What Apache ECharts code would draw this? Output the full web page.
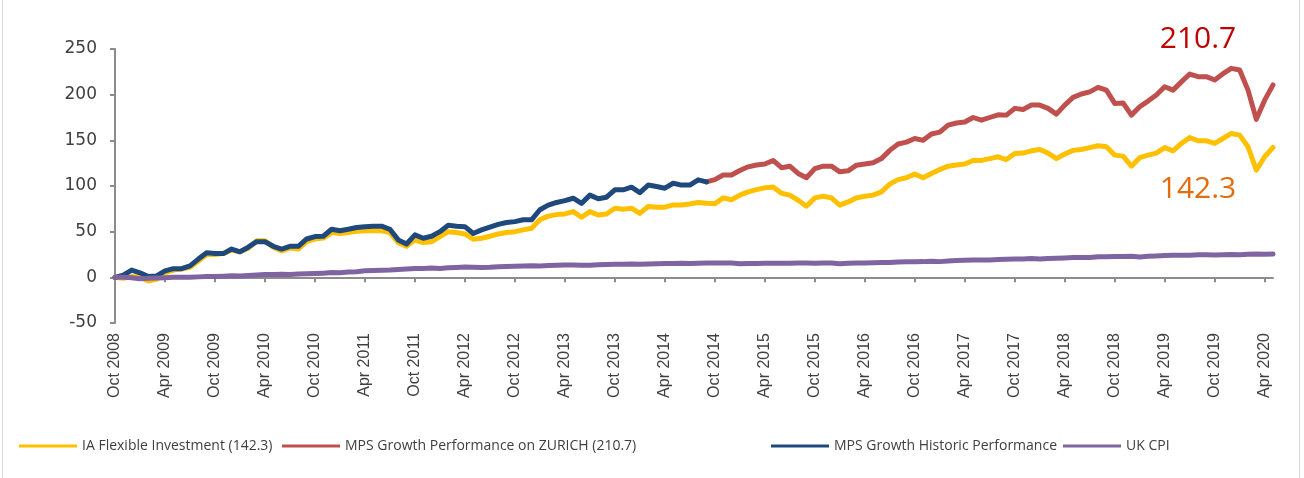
<!DOCTYPE html>
<html>
<head>
<meta charset="utf-8">
<script src="https://cdn.jsdelivr.net/npm/echarts@6/dist/echarts.min.js"></script>
<style>
html,body{margin:0;padding:0;background:#fff;}
#chart{width:1304px;height:478px;}
</style>
</head>
<body>
<div id="chart"></div>
<script>
// ---- Data (monthly, Oct 2008 .. May 2020) ----
var monthNames = ['Jan','Feb','Mar','Apr','May','Jun','Jul','Aug','Sep','Oct','Nov','Dec'];
var startYear = 2008, startMonth = 9, monthCount = 140;
var categories = [];
for (var k = 0; k < monthCount; k++) {
  var m = (startMonth + k) % 12, y = startYear + Math.floor((startMonth + k) / 12);
  categories.push(monthNames[m] + ' ' + y);
}

var iaFlexible = [
  0, -1, 1, 0, -4, -2, 5, 8, 9, 11, 18, 25, 25, 26, 30, 28, 32, 40, 40, 33, 29, 32, 31, 39, 42, 43, 49, 48, 49, 50.5, 51, 51, 51, 49, 38, 34,
  41, 38, 39, 44.6, 50, 49, 47.5, 41.7, 42.8, 45, 47.5, 49, 50, 52, 53.7, 63, 67, 68.7, 69.4, 72, 65.8, 72, 68.3, 69.4, 75.7, 74.6, 75.7, 70, 77.5, 76.8, 76.8, 79.3, 79.3, 80.4, 82, 81,
  80.5, 87, 85, 90, 93.6, 96, 98, 99, 92, 90, 84.4, 77.9, 87, 88.8, 87, 79, 82.6, 87, 88.8, 90, 93.6, 102, 107, 109, 113, 109, 113.7, 118, 121.7, 123, 124, 128, 128, 130, 132,
  129, 135.6, 136, 138.5, 140, 136, 130, 135, 139, 140, 142, 144, 143, 133.8, 132.7, 121.7, 131, 133.8, 136, 142, 138.5, 146.6, 153, 149.5, 149.5, 146.6, 152, 157.5, 155.7, 143, 117.3, 132, 142.3
];

// MPS Growth Performance on ZURICH: starts at index 71 (Sep 2014)
var zurichStartIndex = 71;
var zurichValues = [
  104.5, 107, 112, 112, 117, 121, 123, 124, 128, 120, 121.7, 113.7, 109, 119, 121.7, 121.7, 115.5, 116.6, 122.8, 124, 125.4, 130, 139, 146, 148, 152, 150, 157, 159, 166.7, 169, 170, 175, 172, 175, 178,
  177.6, 185, 183.8, 188.6, 188.6, 185, 178.7, 188.6, 197, 200.7, 203, 208, 205, 190.4, 191, 177.6, 186.8, 193, 199.6, 208.7, 205, 214, 222.6, 219.7, 219.7, 216, 223, 228.8, 227, 205, 173, 194, 210.7
];

// MPS Growth Historic Performance: Oct 2008 .. Sep 2014
var historicValues = [
  0, 2.5, 8, 5, 1, 1.5, 7, 9.5, 9.5, 12.5, 20, 27, 26, 26, 31, 28, 33, 39, 39, 34, 31, 34, 34, 42, 44.6, 45, 52.6, 51, 52.6, 54.5, 55.5, 56, 56, 52.6, 41, 36.5,
  46.5, 42.8, 45, 50, 57, 56, 55.5, 48, 52, 55, 58, 60, 61, 63, 63, 74, 79, 82, 84, 86.6, 81, 90, 86, 87.7, 95.8, 95.8, 98.7, 92.8, 101, 99.4, 97.6, 103, 101, 101, 106.7, 104.5
];

var ukCpi = [
  0, 0, -0.5, -1.5, -1, -0.8, -0.5, 0, 0.2, 0, 0.5, 0.8, 1, 1.3, 1.8, 1.4, 2, 2.5, 3, 3.2, 3.4, 3.2, 3.6, 4, 4.2, 4.6, 5.2, 5.1, 5.8, 6.2, 7.2, 7.6, 7.8, 8, 8.6, 9.2,
  9.6, 9.8, 10.2, 9.8, 10.4, 10.7, 11.2, 11.1, 10.9, 11, 11.5, 11.8, 12.2, 12.4, 12.8, 12.3, 13, 13.3, 13.6, 13.5, 13.3, 13.3, 13.8, 14.1, 14.2, 14.3, 14.7, 14.2, 14.7, 14.9, 15.2, 15.1, 15.3, 15.1, 15.5, 15.6,
  15.7, 15.6, 15.7, 14.8, 15.2, 15.2, 15.4, 15.5, 15.5, 15.4, 15.7, 15.6, 15.5, 15.7, 15.8, 14.9, 15.3, 15.7, 15.8, 16, 16.2, 16.2, 16.8, 17, 17, 17.2, 17.7, 17.2, 17.9, 18.3, 18.6, 19, 19, 18.9, 19.6,
  19.8, 20, 20.2, 20.7, 20, 20.6, 20.9, 21.3, 21.7, 21.7, 21.7, 22.5, 22.6, 22.7, 22.9, 23.1, 22.3, 23, 23.3, 23.8, 24.1, 24.1, 24.1, 24.6, 24.7, 24.5, 24.7, 25.1, 24.8, 25.3, 25.6, 25.4, 25.5
];

var seriesNames = ['IA Flexible Investment (142.3)', 'MPS Growth Performance on ZURICH (210.7)', 'MPS Growth Historic Performance', 'UK CPI'];
var seriesColors = ['#FFC000', '#C0504D', '#1F497D', '#8064A2'];
var yTicks = { min: -50, max: 250, interval: 50 };
var endLabels = [
  { text: '210.7', cat: 130, anchor: 230, lift: 261, color: '#C00000' },
  { text: '142.3', cat: 130, anchor: 96, lift: 96, color: '#E46C0A' }
];
var legendLefts = [14, 277, 766, 1058];

// ---- Build ----
var zurichFull = [];
for (var a = 0; a < zurichStartIndex; a++) zurichFull.push(null);
zurichFull = zurichFull.concat(zurichValues);
var historicFull = historicValues.slice();
while (historicFull.length < monthCount) historicFull.push(null);

var pxPerUnit = 274 / (yTicks.max - yTicks.min);
var allData = [iaFlexible, zurichFull, historicFull, ukCpi];
var series = allData.map(function (d, i) {
  return {
    name: seriesNames[i],
    type: 'line',
    data: d,
    xAxisIndex: 0,
    symbol: 'none',
    showSymbol: false,
    connectNulls: false,
    lineStyle: { width: 5, color: seriesColors[i], cap: 'round', join: 'round' },
    itemStyle: { color: seriesColors[i] },
    z: 2 + i,
    animation: false
  };
});
series[1].markPoint = {
  symbol: 'circle',
  symbolSize: 0,
  silent: true,
  animation: false,
  data: endLabels.map(function (l) {
    return {
      coord: [categories[l.cat], l.anchor],
      label: {
        show: true,
        position: 'inside',
        offset: [0, -(l.lift - l.anchor) * pxPerUnit],
        formatter: l.text,
        color: l.color,
        fontFamily: 'Open Sans',
        fontSize: 30
      }
    };
  })
};

var legends = seriesNames.map(function (n, i) {
  return {
    left: legendLefts[i],
    top: 434,
    icon: 'rect',
    itemWidth: 58,
    itemHeight: 3,
    textStyle: { fontFamily: 'Open Sans', fontSize: 14, color: '#404040' },
    data: [n]
  };
});

var chart = echarts.init(document.getElementById('chart'), null, { renderer: 'canvas' });
chart.setOption({
  animation: false,
  backgroundColor: '#ffffff',
  grid: { left: 115, right: 31, top: 49, bottom: 155, containLabel: false },
  legend: legends,
  xAxis: [
    {
      type: 'category',
      data: categories,
      boundaryGap: false,
      axisLine: { onZero: true, lineStyle: { color: '#8c8c8c', width: 2 } },
      axisTick: { show: true, interval: 5, length: 5, lineStyle: { color: '#8c8c8c', width: 2 } },
      axisLabel: { show: false },
      splitLine: { show: false }
    },
    {
      type: 'category',
      data: categories,
      position: 'bottom',
      boundaryGap: false,
      axisLine: { show: false, onZero: false },
      axisTick: { show: false },
      axisLabel: {
        show: true,
        interval: 5,
        rotate: 90,
        margin: 10,
        fontFamily: 'Liberation Sans',
        fontSize: 16,
        color: '#404040'
      },
      splitLine: { show: false }
    }
  ],
  yAxis: {
    type: 'value',
    min: yTicks.min,
    max: yTicks.max,
    interval: yTicks.interval,
    axisLine: { show: true, lineStyle: { color: '#8c8c8c', width: 2 } },
    axisTick: { show: true, length: 5, lineStyle: { color: '#8c8c8c', width: 2 } },
    axisLabel: { fontFamily: 'DejaVu Sans', fontSize: 17, color: '#404040', margin: 18 },
    splitLine: { show: false }
  },
  graphic: [
    {
      type: 'rect',
      silent: true,
      shape: { x: 2.5, y: -10, width: 1297, height: 500 },
      style: { fill: 'none', stroke: '#d9d9d9', lineWidth: 1 }
    }
  ],
  series: series
});
</script>
</body>
</html>
